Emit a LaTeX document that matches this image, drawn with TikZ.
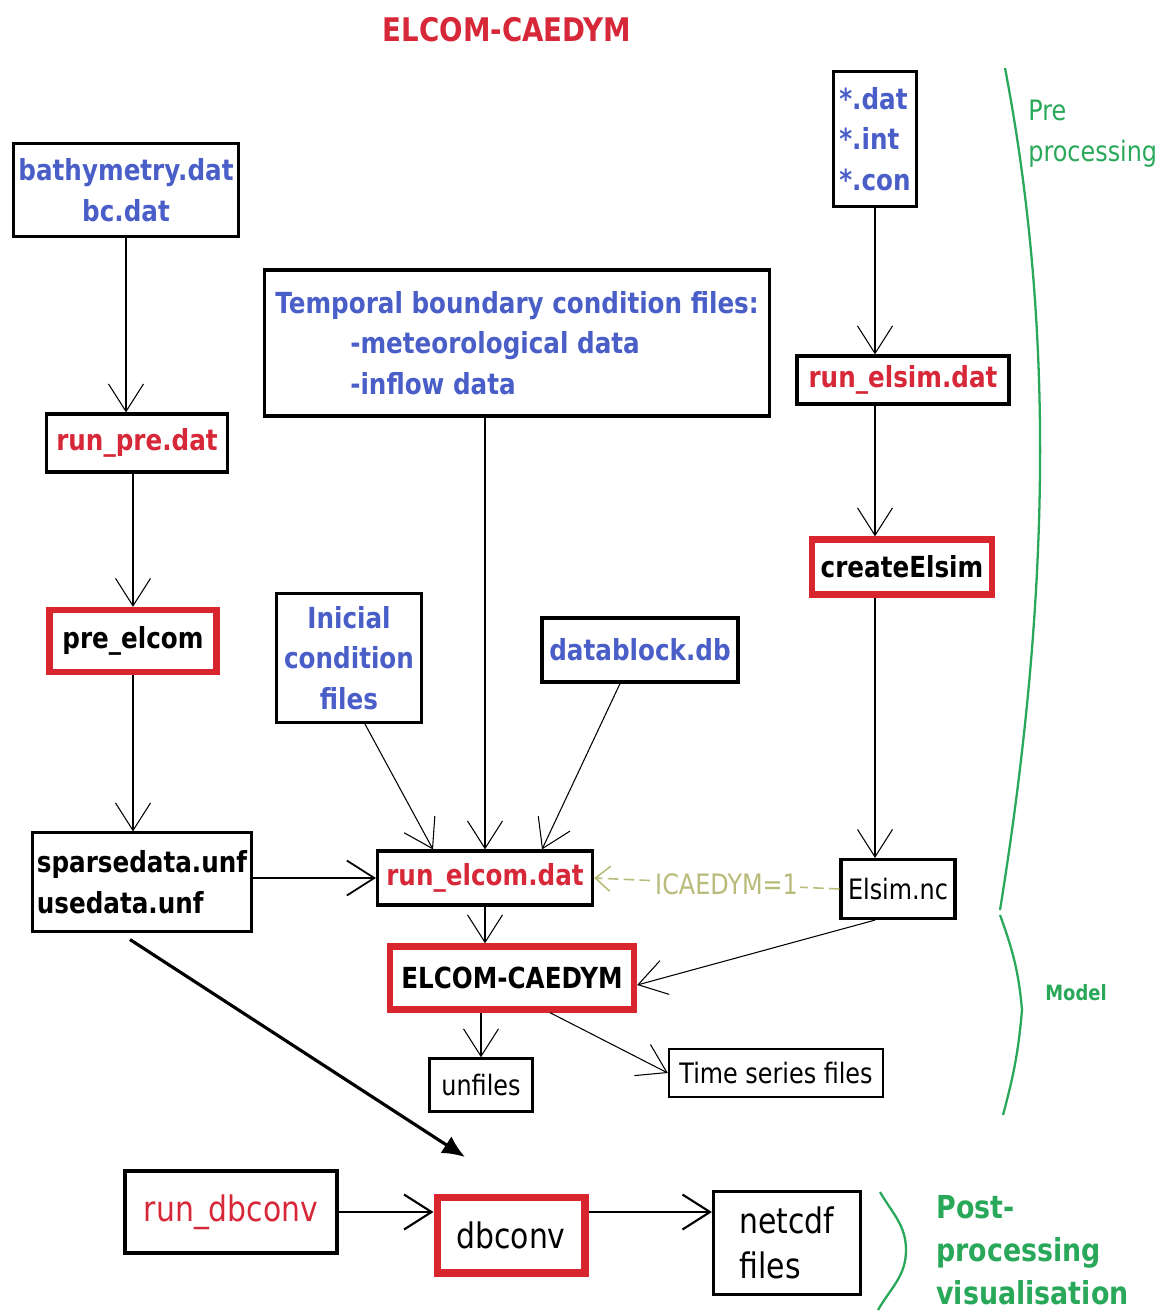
\documentclass[tikz,border=0pt]{standalone}
\usepackage{fontspec}
\setmainfont{DejaVu Sans}[FakeStretch=0.85]
\usetikzlibrary{arrows.meta}
\definecolor{fileBlue}{RGB}{74,94,200}
\definecolor{runRed}{RGB}{214,40,56}
\definecolor{boxRed}{RGB}{217,38,46}
\definecolor{braceGreen}{RGB}{42,168,90}
\definecolor{flagOlive}{RGB}{184,187,122}

\begin{document}
\begin{tikzpicture}[x=0.02cm,y=-0.02cm,
        >={Straight Barb[length=0.55cm,width=0.7cm]},
        arr/.style = {->,line width=0.6pt},
        inFile/.style = {draw=black,line width=1.8pt,text=fileBlue,inner sep=2pt,align=center,font=\bfseries\fontsize{16.5}{23}\selectfont},
        runFile/.style = {draw=black,line width=1.8pt,text=runRed,inner sep=2pt,font=\bfseries\fontsize{16.5}{23}\selectfont},
        progNode/.style = {draw=boxRed,line width=3.6pt,text=black,inner sep=2pt,font=\bfseries\fontsize{16.5}{23}\selectfont},
        outFile/.style = {draw=black,line width=1.4pt,inner sep=2pt,font=\fontsize{16}{23}\selectfont},
        postNode/.style = {draw=black,line width=1.8pt,inner sep=2pt,align=left,font=\fontsize{20}{25.5}\selectfont},
        braceLine/.style = {draw=braceGreen,line width=1.3pt},
        sideLabel/.style = {text=braceGreen,align=left,inner sep=0pt}
        ]
        \useasboundingbox (0,0) rectangle (1168,1314);

        \node[text=runRed,font=\bfseries\fontsize{18.5}{22}\selectfont] (title) at (507,30) {ELCOM-CAEDYM};

        % pre-processing, left column
        \node[inFile,minimum width=4.5cm,minimum height=1.86cm] (bathy) at (126,190) {bathymetry.dat\\bc.dat};
        \node[runFile,minimum width=3.62cm,minimum height=1.16cm] (runPre) at (137,443) {run\_pre.dat};
        \node[progNode,minimum width=3.34cm,minimum height=1.24cm] (preElcom) at (133,641) {pre\_elcom};
        \node[outFile,line width=1.2pt,align=left,font=\bfseries\fontsize{16.5}{23}\selectfont,minimum width=4.38cm,minimum height=1.98cm] (sparse) at (142,882) {sparsedata.unf\\usedata.unf};

        % middle inputs
        \node[inFile,align=left,minimum width=10.1cm,minimum height=2.92cm] (temporal) at (517,343) {Temporal boundary condition files:\\\hspace*{1.5cm}-meteorological data\\\hspace*{1.5cm}-inflow data};
        \node[inFile,minimum width=2.9cm,minimum height=2.58cm] (inicial) at (349,658) {Inicial\\condition\\files};
        \node[inFile,minimum width=3.92cm,minimum height=1.28cm] (datablock) at (640,650) {datablock.db};

        % right column
        \node[inFile,align=left,minimum width=1.66cm,minimum height=2.7cm] (datFiles) at (875,139) {*.dat\\*.int\\*.con};
        \node[runFile,minimum width=4.24cm,minimum height=0.96cm] (runElsim) at (903,380) {run\_elsim.dat};
        \node[progNode,minimum width=3.6cm,minimum height=1.1cm] (createElsim) at (902,567) {createElsim};
        \node[outFile,line width=1.8pt,minimum width=2.28cm,minimum height=1.18cm] (elsimNc) at (898,889) {Elsim.nc};

        % model
        \node[runFile,minimum width=4.3cm,minimum height=1.08cm] (runElcom) at (485,878) {run\_elcom.dat};
        \node[progNode,minimum width=4.88cm,minimum height=1.26cm] (elcom) at (512,978) {ELCOM-CAEDYM};
        \node[outFile,minimum width=2.06cm,minimum height=1.06cm] (unfiles) at (481,1085) {unfiles};
        \node[outFile,minimum width=4.28cm,minimum height=0.96cm] (timeSeries) at (776,1073) {Time series files};

        % post-processing
        \node[postNode,text=runRed,minimum width=4.24cm,minimum height=1.64cm] (runDbconv) at (231,1212) {run\_dbconv};
        \node[postNode,draw=boxRed,line width=4pt,minimum width=2.96cm,minimum height=1.52cm] (dbconv) at (511,1235) {dbconv};
        \node[postNode,minimum width=2.94cm,minimum height=2.06cm] (netcdf) at (787,1243) {netcdf\\files};
        \coordinate (dbTip) at (465,1157);

        % green side labels
        \draw[braceLine] (1005,68) .. controls (1055,330) and (1050,600) .. (1000,910);
        \draw[braceLine] (1000,915) to[out=-70,in=95] (1022,1010) to[out=-95,in=75] (1003,1115);
        \draw[braceLine] (880,1192) to[out=-60,in=90] (906,1250) to[out=-90,in=60] (878,1310);
        \node[sideLabel,anchor=north west,font=\fontsize{16}{23}\selectfont] (preLbl) at (1028,100) {Pre\\processing};
        \node[sideLabel,font=\bfseries\fontsize{12}{14}\selectfont] (modelLbl) at (1076,993) {Model};
        \node[sideLabel,anchor=north west,font=\bfseries\fontsize{18}{24.5}\selectfont] (postLbl) at (936,1195) {Post-\\processing\\visualisation};

        % connectors
        \draw[arr] (bathy.south) -- (bathy.south |- runPre.north);
        \draw[arr] (preElcom.north |- runPre.south) -- (preElcom.north);
        \draw[arr] (preElcom.south) -- (preElcom.south |- sparse.north);
        \draw[arr,line width=1pt] (sparse.east |- runElcom.west) -- (runElcom.west);
        \draw[arr] (runElcom.north |- temporal.south) -- (runElcom.north);
        \draw[arr] ([xshift=0.32cm]inicial.south) -- ([xshift=-1.04cm]runElcom.north);
        \draw[arr] ([xshift=-0.4cm]datablock.south) -- ([xshift=1.14cm]runElcom.north);
        \draw[arr] (datFiles.south) -- (datFiles.south |- runElsim.north);
        \draw[arr] (runElsim.south -| datFiles.south) -- (createElsim.north -| datFiles.south);
        \draw[arr] (createElsim.south -| datFiles.south) -- (elsimNc.north -| datFiles.south);
        \draw[->,-{Straight Barb[length=0.3cm,width=0.5cm]},draw=flagOlive,line width=0.9pt,dash pattern=on 6pt off 3pt]
            (elsimNc.west) -- node[pos=0.46,fill=white,text=flagOlive,inner sep=1pt,font=\fontsize{16}{20}\selectfont] {ICAEDYM=1} (runElcom.east);
        \draw[arr] (runElcom.south) -- (runElcom.south |- elcom.north);
        \draw[arr] ([xshift=-0.46cm]elsimNc.south) -- ([yshift=-0.14cm]elcom.east);
        \draw[arr] (elcom.south -| unfiles.north) -- (unfiles.north);
        \draw[arr] ([xshift=0.76cm]elcom.south) -- (timeSeries.west);
        \draw[line width=1.8pt,-{Latex[length=0.45cm,width=0.4cm]}] ([xshift=-0.24cm,yshift=-0.14cm]sparse.south) -- (dbTip);
        \draw[arr,line width=1.2pt] (runDbconv.east) -- (dbconv.west |- runDbconv.east);
        \draw[arr,line width=1.2pt] (dbconv.east |- runDbconv.east) -- (netcdf.west |- runDbconv.east);
\end{tikzpicture}
\end{document}
